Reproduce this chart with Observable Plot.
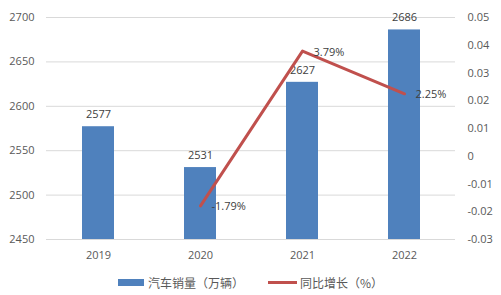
<!DOCTYPE html>
<html>
<head>
<meta charset="utf-8">
<script src="https://cdn.jsdelivr.net/npm/d3@7"></script>
<script src="https://cdn.jsdelivr.net/npm/@observablehq/plot@0.6"></script>
<style>
  html, body { margin: 0; padding: 0; background: #fff; }
  #chart { width: 501px; }
  .legend { display: flex; justify-content: center; align-items: center; height: 25px;
    font-family: "Noto Sans CJK SC", "Open Sans", sans-serif; font-size: 12px; color: #595959; }
  .legend .item { display: flex; align-items: center; margin: 0 12px; }
  .sw-bar { width: 26px; height: 7px; background: #4F81BD; margin-right: 4px; }
  .sw-line { width: 29px; height: 3px; background: #C0504D; margin-right: 3px; }
</style>
</head>
<body>
<div id="chart"></div>
<script>
const years = ["2019", "2020", "2021", "2022"];
const sales = [2577, 2531, 2627, 2686];
const growthYears = ["2020", "2021", "2022"];
const growth = [-0.0179, 0.0379, 0.0225];
const growthLabels = ["-1.79%", "3.79%", "2.25%"];
const leftTicks = [2450, 2500, 2550, 2600, 2650, 2700];
const rightTicks = [-0.03, -0.02, -0.01, 0, 0.01, 0.02, 0.03, 0.04, 0.05];
const seriesNames = ["汽车销量（万辆）", "同比增长（%）"];

const L0 = 2450, L1 = 2700, R0 = -0.03, R1 = 0.05;
const toLeft = v => L0 + (v - R0) * (L1 - L0) / (R1 - R0);
const toRight = d => Math.round((R0 + (d - L0) * (R1 - R0) / (L1 - L0)) * 100) / 100;

const barData = years.map((y, i) => ({year: y, value: sales[i]}));
const lineData = growthYears.map((y, i) => ({year: y, g: growth[i], label: growthLabels[i]}));

const plot = Plot.plot({
  width: 501,
  height: 270,
  marginLeft: 46,
  marginRight: 46,
  marginTop: 17,
  marginBottom: 31,
  style: {fontFamily: "'Open Sans', 'Noto Sans CJK SC', sans-serif", fontSize: "11px", color: "#595959", background: "#fff"},
  x: {type: "band", domain: years, paddingInner: 0.687, paddingOuter: 0.3435},
  y: {domain: [L0, L1]},
  marks: [
    Plot.ruleY(leftTicks, {stroke: "#d9d9d9", strokeWidth: 1}),
    Plot.barY(barData, {x: "year", y1: L0, y2: "value", fill: "#4F81BD"}),
    Plot.text(barData, {x: "year", y: "value", text: d => String(d.value), dy: -12, fill: "#404040"}),
    Plot.line(lineData, {x: "year", y: d => toLeft(d.g), stroke: "#C0504D", strokeWidth: 3}),
    Plot.text(lineData, {x: "year", y: d => toLeft(d.g), text: "label", textAnchor: "start", dx: 11, dy: 1, fill: "#404040"}),
    Plot.axisY(leftTicks, {anchor: "left", tickSize: 0, tickPadding: 12, tickFormat: d => String(d), label: null}),
    Plot.axisY(rightTicks.map(toLeft), {anchor: "right", tickSize: 0, tickPadding: 12, tickFormat: d => String(toRight(d)), label: null}),
    Plot.axisX({tickSize: 0, tickPadding: 12, label: null})
  ]
});
document.getElementById("chart").appendChild(plot);

const legend = document.createElement("div");
legend.className = "legend";
legend.innerHTML =
  `<div class="item"><div class="sw-bar"></div><span>${seriesNames[0]}</span></div>` +
  `<div class="item"><div class="sw-line"></div><span>${seriesNames[1]}</span></div>`;
document.getElementById("chart").appendChild(legend);
</script>
</body>
</html>
